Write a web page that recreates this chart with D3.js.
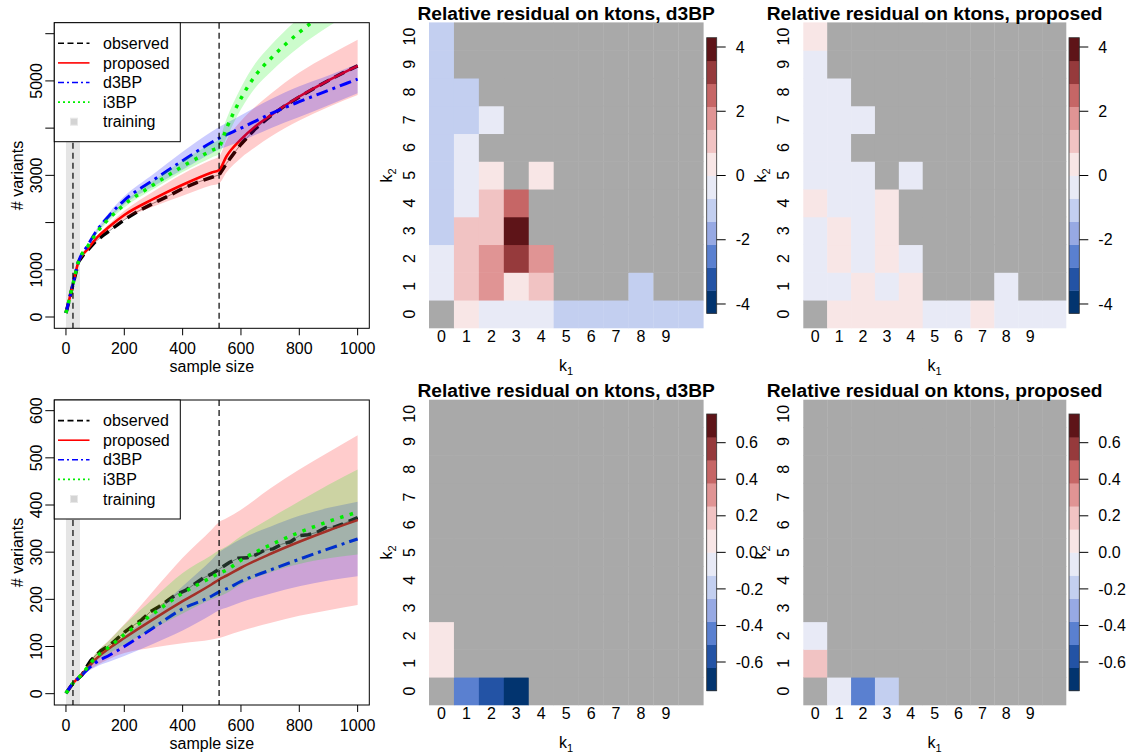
<!DOCTYPE html>
<html>
<head>
<meta charset="utf-8">
<script src="https://cdn.jsdelivr.net/npm/d3@7"></script>
<style>
  html, body { margin: 0; padding: 0; background: #ffffff; }
  svg { display: block; font-family: "Liberation Sans", Arial, Helvetica, sans-serif; }
</style>
</head>
<body>
<svg id="fig" width="1131" height="753"></svg>
<script>
// ---------------------------------------------------------------
// Growth curves: number of variants vs sample size
// ---------------------------------------------------------------
const seriesNames = ["observed", "proposed", "d3BP", "i3BP", "training"];
const trainingRange = [0, 48];
const markerSizes = [24, 525];
const sampleTicks = [0, 200, 400, 600, 800, 1000];

// upper panel (all variants)
const variantTicksTop = [0, 1000, 2000, 3000, 4000, 5000, 6000];
const variantTickLabelsTop = ["0", "1000", "", "3000", "", "5000", ""];
const obsSizesTop = [0, 10, 20, 30, 43, 60, 75, 100, 125, 150, 200, 250, 300, 350, 400, 450, 500, 525, 550, 575, 600, 650, 700, 750, 800, 850, 900, 950, 1000];
const observedTop = [85, 330, 590, 840, 1170, 1320, 1420, 1590, 1720, 1830, 2060, 2250, 2410, 2560, 2720, 2850, 2960, 3010, 3250, 3460, 3660, 3990, 4250, 4470, 4660, 4840, 5010, 5170, 5320];
const modelSizesTop = [0, 20, 43, 75, 100, 150, 200, 300, 400, 500, 525, 550, 600, 650, 700, 800, 900, 1000];
const proposedTop   = [85, 590, 1170, 1440, 1640, 1920, 2160, 2500, 2800, 3060, 3114, 3400, 3760, 4040, 4265, 4670, 5010, 5318];
const proposedTopLo = [85, 590, 1170, 1425, 1610, 1860, 2070, 2340, 2570, 2790, 2830, 3060, 3370, 3600, 3810, 4160, 4450, 4700];
const proposedTopHi = [85, 590, 1170, 1455, 1670, 1980, 2250, 2660, 3030, 3330, 3400, 3740, 4150, 4460, 4720, 5180, 5540, 5870];
const d3bpTop       = [85, 590, 1170, 1520, 1780, 2160, 2470, 2900, 3310, 3700, 3785, 3860, 4000, 4150, 4300, 4560, 4800, 5040];
const d3bpTopLo     = [85, 590, 1170, 1505, 1745, 2095, 2385, 2770, 3120, 3470, 3545, 3605, 3725, 3860, 3995, 4235, 4485, 4740];
const d3bpTopHi     = [85, 590, 1170, 1535, 1815, 2225, 2555, 3030, 3500, 3930, 4025, 4110, 4275, 4440, 4605, 4885, 5115, 5360];
const i3bpTop       = [85, 590, 1170, 1500, 1740, 2100, 2380, 2800, 3190, 3530, 3610, 3990, 4630, 5120, 5460, 6030, 6500, 6930];
const i3bpTopLo     = [85, 590, 1170, 1490, 1715, 2050, 2320, 2710, 3070, 3380, 3450, 3790, 4400, 4860, 5180, 5720, 6150, 6540];
const i3bpTopHi     = [85, 590, 1170, 1510, 1765, 2150, 2440, 2890, 3310, 3680, 3770, 4190, 4860, 5380, 5740, 6340, 6850, 7320];

// lower panel
const variantTicksBottom = [0, 100, 200, 300, 400, 500, 600];
const variantTickLabelsBottom = ["0", "100", "200", "300", "400", "500", "600"];
const obsSizesBottom = [0, 10, 24, 40, 55, 70, 85, 100, 120, 140, 160, 180, 200, 230, 260, 290, 320, 350, 380, 410, 440, 470, 500, 525, 560, 590, 620, 650, 680, 710, 740, 770, 800, 830, 860, 890, 920, 950, 980, 1000];
const observedBottom = [1, 10, 22, 31, 40, 56, 70, 80, 91, 99, 108, 119, 130, 144, 157, 174, 185, 198, 211, 219, 232, 245, 254, 264, 278, 287, 288, 294, 304, 307, 317, 322, 335, 337, 342, 352, 353, 360, 368, 373];
const modelSizesBottom = [0, 24, 50, 75, 100, 150, 200, 300, 400, 500, 525, 550, 600, 700, 800, 900, 1000];
const proposedBottom   = [1, 22, 38, 55, 72, 97, 118, 158, 196, 232, 242, 250, 267, 296, 322, 346, 368];
const proposedBottomLo = [1, 22, 36, 48, 58, 74, 86, 98, 107, 115, 118, 123, 133, 150, 165, 177, 188];
const proposedBottomHi = [1, 22, 40, 62, 84, 115, 147, 218, 288, 348, 364, 372, 390, 435, 475, 512, 548];
const d3bpBottom       = [1, 22, 37, 52, 65, 82, 100, 140, 180, 207, 216, 222, 238, 262, 285, 307, 328];
const d3bpBottomLo     = [1, 22, 35, 47, 56, 68, 80, 106, 134, 168, 177, 182, 194, 212, 228, 240, 249];
const d3bpBottomHi     = [1, 22, 39, 57, 74, 98, 122, 172, 228, 284, 300, 310, 328, 354, 377, 394, 407];
const i3bpBottom       = [1, 22, 38, 57, 76, 100, 125, 170, 213, 247, 255, 262, 283, 315, 342, 365, 385];
const i3bpBottomLo     = [1, 22, 36, 52, 68, 86, 104, 138, 170, 200, 206, 213, 232, 257, 275, 287, 295];
const i3bpBottomHi     = [1, 22, 40, 62, 84, 114, 146, 202, 256, 294, 304, 312, 334, 372, 408, 443, 475];

// ---------------------------------------------------------------
// Relative residuals on k-tons, indexed [k2][k1]; null = no data
// ---------------------------------------------------------------
const k1Labels = ["0", "1", "2", "3", "4", "5", "6", "7", "8", "9"];
const k2Labels = ["0", "1", "2", "3", "4", "5", "6", "7", "8", "9", "10"];
const N = null;
const residD3bpTop = [
  [N, 0.31, -0.28, -0.35, -0.22, -1.05, -0.98, -1.10, -1.02, -0.96, -1.08],
  [-0.33, 1.12, 1.86, 0.27, 1.05, N, N, N, -1.04, N, N],
  [-0.30, 1.08, 1.79, 3.21, 1.83, N, N, N, N, N, N],
  [-1.02, 1.15, 1.09, 4.29, N, N, N, N, N, N, N],
  [-0.97, -0.36, 1.10, 2.52, N, N, N, N, N, N, N],
  [-1.04, -0.31, 0.34, N, 0.29, N, N, N, N, N, N],
  [-1.01, -0.27, N, N, N, N, N, N, N, N, N],
  [-0.99, -1.06, -0.33, N, N, N, N, N, N, N, N],
  [-1.08, -1.03, N, N, N, N, N, N, N, N, N],
  [-1.00, N, N, N, N, N, N, N, N, N, N],
  [-1.07, N, N, N, N, N, N, N, N, N, N]
];
const residProposedTop = [
  [N, 0.22, 0.31, 0.26, 0.18, -0.21, -0.12, 0.33, -0.24, -0.30, -0.27],
  [-0.19, -0.32, 0.24, -0.16, 0.29, N, N, N, -0.22, N, N],
  [-0.28, 0.41, -0.21, 0.23, -0.11, N, N, N, N, N, N],
  [-0.23, 0.35, -0.30, 0.38, N, N, N, N, N, N, N],
  [0.21, -0.13, -0.26, 0.31, N, N, N, N, N, N, N],
  [-0.31, -0.20, -0.14, N, -0.25, N, N, N, N, N, N],
  [-0.22, -0.34, N, N, N, N, N, N, N, N, N],
  [-0.27, -0.17, -0.20, N, N, N, N, N, N, N, N],
  [-0.12, -0.29, N, N, N, N, N, N, N, N, N],
  [-0.24, N, N, N, N, N, N, N, N, N, N],
  [0.26, N, N, N, N, N, N, N, N, N, N]
];
const residD3bpBottom = [
  [N, -0.44, -0.57, -0.757, N, N, N, N, N, N, N],
  [0.06, N, N, N, N, N, N, N, N, N, N],
  [0.09, N, N, N, N, N, N, N, N, N, N],
  [N, N, N, N, N, N, N, N, N, N, N],
  [N, N, N, N, N, N, N, N, N, N, N],
  [N, N, N, N, N, N, N, N, N, N, N],
  [N, N, N, N, N, N, N, N, N, N, N],
  [N, N, N, N, N, N, N, N, N, N, N],
  [N, N, N, N, N, N, N, N, N, N, N],
  [N, N, N, N, N, N, N, N, N, N, N],
  [N, N, N, N, N, N, N, N, N, N, N]
];
const residProposedBottom = [
  [N, -0.05, -0.44, -0.19, N, N, N, N, N, N, N],
  [0.19, N, N, N, N, N, N, N, N, N, N],
  [-0.06, N, N, N, N, N, N, N, N, N, N],
  [N, N, N, N, N, N, N, N, N, N, N],
  [N, N, N, N, N, N, N, N, N, N, N],
  [N, N, N, N, N, N, N, N, N, N, N],
  [N, N, N, N, N, N, N, N, N, N, N],
  [N, N, N, N, N, N, N, N, N, N, N],
  [N, N, N, N, N, N, N, N, N, N, N],
  [N, N, N, N, N, N, N, N, N, N, N],
  [N, N, N, N, N, N, N, N, N, N, N]
];
const residTicksTop = [-4, -2, 0, 2, 4];
const residTickLabelsTop = ["-4", "-2", "0", "2", "4"];
const residTicksBottom = [-0.6, -0.4, -0.2, 0, 0.2, 0.4, 0.6];
const residTickLabelsBottom = ["-0.6", "-0.4", "-0.2", "0.0", "0.2", "0.4", "0.6"];

// diverging palette, low (blue) to high (red)
const residPalette = ["#02346f", "#2353a5", "#5a80d0", "#97a9e3", "#c3cff0", "#e8eaf6",
                      "#f8e6e6", "#f1c3c3", "#e09494", "#c66666", "#963a3c", "#5e1418"];
const naColor = "#a9a9a9";

// ---------------------------------------------------------------
const svg = d3.select("#fig");
const FS = 16;

function zip(xs, ys) { return xs.map((x, i) => [x, ys[i]]); }
function zipBand(xs, lo, hi) { return xs.map((x, i) => [x, lo[i], hi[i]]); }

function drawCurvePanel(cfg) {
  const { box } = cfg;
  const g = svg.append("g");
  const x = d3.scaleLinear().domain([-40, 1040]).range([box.x0, box.x1]);
  const y = d3.scaleLinear().domain(cfg.yDomain).range([box.y1, box.y0]);

  const clipId = "clip" + cfg.id;
  svg.append("clipPath").attr("id", clipId)
    .append("rect").attr("x", box.x0).attr("y", box.y0)
    .attr("width", box.x1 - box.x0).attr("height", box.y1 - box.y0);
  const pg = g.append("g").attr("clip-path", `url(#${clipId})`);

  // training window
  pg.append("rect")
    .attr("x", x(trainingRange[0])).attr("y", box.y0)
    .attr("width", x(trainingRange[1]) - x(trainingRange[0]))
    .attr("height", box.y1 - box.y0)
    .attr("fill", "#e5e5e5");

  const line = d3.line().x(d => x(d[0])).y(d => y(d[1]));
  const smooth = d3.line().x(d => x(d[0])).y(d => y(d[1])).curve(d3.curveMonotoneX);
  const area = d3.area().x(d => x(d[0])).y0(d => y(d[1])).y1(d => y(d[2])).curve(d3.curveMonotoneX);

  // observed counts
  pg.append("path").datum(zip(cfg.obsSizes, cfg.observed))
    .attr("d", line).attr("fill", "none").attr("stroke", "#8a8a8a").attr("stroke-width", 1);
  pg.append("path").datum(zip(cfg.obsSizes, cfg.observed))
    .attr("d", line).attr("fill", "none").attr("stroke", "#000")
    .attr("stroke-width", 3.5).attr("stroke-dasharray", "11,6");

  // model predictions with their intervals
  cfg.models.forEach(m => {
    pg.append("path").datum(zip(cfg.modelSizes, m.mid))
      .attr("d", smooth).attr("fill", "none").attr("stroke", m.color)
      .attr("stroke-width", m.width).attr("stroke-dasharray", m.dash);
    pg.append("path").datum(zipBand(cfg.modelSizes, m.lo, m.hi))
      .attr("d", area).attr("fill", m.color).attr("fill-opacity", 0.2);
  });

  // vertical reference sizes
  markerSizes.forEach(s => {
    pg.append("line").attr("x1", x(s)).attr("x2", x(s))
      .attr("y1", box.y0).attr("y2", box.y1)
      .attr("stroke", "#000").attr("stroke-width", 1.2).attr("stroke-dasharray", "6,4");
  });

  // frame
  g.append("rect").attr("x", box.x0).attr("y", box.y0)
    .attr("width", box.x1 - box.x0).attr("height", box.y1 - box.y0)
    .attr("fill", "none").attr("stroke", "#000").attr("stroke-width", 1);

  // x axis
  const xa = g.append("g");
  sampleTicks.forEach(t => {
    xa.append("line").attr("x1", x(t)).attr("x2", x(t)).attr("y1", box.y1).attr("y2", box.y1 + 7)
      .attr("stroke", "#000");
    xa.append("text").attr("x", x(t)).attr("y", box.y1 + 25.7).attr("text-anchor", "middle")
      .attr("font-size", FS).text(String(t));
  });
  g.append("text").attr("x", (box.x0 + box.x1) / 2).attr("y", box.y1 + 44)
    .attr("text-anchor", "middle").attr("font-size", FS).text("sample size");

  // y axis
  cfg.yTicks.forEach((t, i) => {
    g.append("line").attr("x1", box.x0 - 9).attr("x2", box.x0).attr("y1", y(t)).attr("y2", y(t))
      .attr("stroke", "#000");
    if (cfg.yTickLabels[i]) {
      g.append("text").attr("transform", `translate(${box.x0 - 12.8},${y(t)}) rotate(-90)`)
        .attr("text-anchor", "middle").attr("font-size", FS).text(cfg.yTickLabels[i]);
    }
  });
  g.append("text").attr("transform", `translate(22.5,${(box.y0 + box.y1) / 2}) rotate(-90)`)
    .attr("text-anchor", "middle").attr("font-size", FS).text("# variants");

  // legend
  const lg = g.append("g");
  lg.append("rect").attr("x", box.x0).attr("y", box.y0).attr("width", 126).attr("height", 119)
    .attr("fill", "#fff").attr("stroke", "#000").attr("stroke-width", 1);
  const legendStyles = [
    { color: "#000", dash: "6,3.5" },
    { color: "#ff0000", dash: null },
    { color: "#0000ff", dash: "6,3,2,3" },
    { color: "#00ee00", dash: "2,3" },
    null
  ];
  seriesNames.forEach((name, i) => {
    const yy = box.y0 + 20.6 + i * 19.6;
    const st = legendStyles[i];
    if (st) {
      lg.append("line").attr("x1", 58).attr("x2", 89.5).attr("y1", yy).attr("y2", yy)
        .attr("stroke", st.color).attr("stroke-width", 1.6).attr("stroke-dasharray", st.dash);
    } else {
      lg.append("rect").attr("x", 70.5).attr("y", yy - 3.5).attr("width", 7).attr("height", 7)
        .attr("fill", "#d4d4d4").attr("stroke", "#e8e8e8").attr("stroke-width", 1);
    }
    lg.append("text").attr("x", 103).attr("y", yy).attr("dy", "0.35em")
      .attr("font-size", FS).text(name);
  });
}

function subscriptLabel(sel, base, sub) {
  sel.append("tspan").text(base);
  sel.append("tspan").attr("font-size", 11).attr("dy", 4).text(sub);
}

function drawResidualPanel(cfg) {
  const { box, bar } = cfg;
  const g = svg.append("g");
  const cols = d3.range(11), rows = d3.range(11);
  const x = d3.scaleBand().domain(cols).range([box.x0, box.x1]);
  const y = d3.scaleBand().domain(rows).range([box.y1, box.y0]);
  const color = d3.scaleQuantize().domain([-cfg.zmax, cfg.zmax]).range(residPalette);
  const colorOf = v => v === null ? naColor : color(Math.max(-cfg.zmax, Math.min(cfg.zmax, v)));

  const cells = [];
  cfg.matrix.forEach((row, k2) => row.forEach((v, k1) => cells.push({ k1, k2, v })));
  g.append("g").selectAll("rect").data(cells).join("rect")
    .attr("x", d => x(d.k1)).attr("y", d => y(d.k2) - 0.3)
    .attr("width", x.bandwidth() + 0.3).attr("height", y.bandwidth() + 0.6)
    .attr("fill", d => colorOf(d.v));

  // title
  g.append("text").attr("x", (box.x0 + box.x1) / 2).attr("y", box.y0 - 3.2)
    .attr("text-anchor", "middle").attr("font-size", 19.2).attr("font-weight", "bold")
    .text(cfg.title);

  // axes (labels only)
  k1Labels.forEach((lab, i) => {
    g.append("text").attr("x", x(i) + x.bandwidth() / 2).attr("y", box.y1 + 14.3)
      .attr("text-anchor", "middle").attr("font-size", FS).text(lab);
  });
  k2Labels.forEach((lab, i) => {
    g.append("text").attr("transform", `translate(${box.x0 - 14},${y(i) + y.bandwidth() / 2}) rotate(-90)`)
      .attr("text-anchor", "middle").attr("font-size", FS).text(lab);
  });
  const xl = g.append("text").attr("x", (box.x0 + box.x1) / 2).attr("y", box.y1 + 42.5)
    .attr("text-anchor", "middle").attr("font-size", FS);
  subscriptLabel(xl, "k", "1");
  const yl = g.append("text").attr("transform", `translate(${box.x0 - 37},${(box.y0 + box.y1) / 2}) rotate(-90)`)
    .attr("text-anchor", "middle").attr("font-size", FS);
  subscriptLabel(yl, "k", "2");

  // colour bar
  const cy = d3.scaleLinear().domain([-cfg.zmax, cfg.zmax]).range([bar.y1, bar.y0]);
  const step = 2 * cfg.zmax / residPalette.length;
  residPalette.forEach((c, i) => {
    const lo = -cfg.zmax + i * step, hi = lo + step;
    g.append("rect").attr("x", bar.x0).attr("y", cy(hi)).attr("width", bar.x1 - bar.x0)
      .attr("height", cy(lo) - cy(hi) + 0.4).attr("fill", c);
  });
  g.append("rect").attr("x", bar.x0).attr("y", bar.y0).attr("width", bar.x1 - bar.x0)
    .attr("height", bar.y1 - bar.y0).attr("fill", "none").attr("stroke", "#333").attr("stroke-width", 0.8);
  cfg.ticks.forEach((t, i) => {
    g.append("line").attr("x1", bar.x1).attr("x2", bar.x1 + 9).attr("y1", cy(t)).attr("y2", cy(t))
      .attr("stroke", "#000");
    g.append("text").attr("x", bar.x1 + 19).attr("y", cy(t)).attr("dy", "0.35em")
      .attr("font-size", FS).text(cfg.tickLabels[i]);
  });
}

// ---------------------------------------------------------------
const modelColors = { proposed: "#ff0000", d3BP: "#0000ff", i3BP: "#00ee00" };
function models(p, pl, ph, d, dl, dh, i3, il, ih) {
  return [
    { color: modelColors.proposed, width: 2.6, dash: null, mid: p, lo: pl, hi: ph },
    { color: modelColors.d3BP, width: 3, dash: "12,5,3,5", mid: d, lo: dl, hi: dh },
    { color: modelColors.i3BP, width: 3.5, dash: "3.5,6.5", mid: i3, lo: il, hi: ih }
  ];
}

drawCurvePanel({
  id: "top", box: { x0: 54.3, x1: 369.3, y0: 22.7, y1: 328.3 }, yDomain: [-239, 6233],
  yTicks: variantTicksTop, yTickLabels: variantTickLabelsTop,
  obsSizes: obsSizesTop, observed: observedTop, modelSizes: modelSizesTop,
  models: models(proposedTop, proposedTopLo, proposedTopHi, d3bpTop, d3bpTopLo, d3bpTopHi, i3bpTop, i3bpTopLo, i3bpTopHi)
});
drawCurvePanel({
  id: "bottom", box: { x0: 54.3, x1: 369.3, y0: 400, y1: 705 }, yDomain: [-24, 622.6],
  yTicks: variantTicksBottom, yTickLabels: variantTickLabelsBottom,
  obsSizes: obsSizesBottom, observed: observedBottom, modelSizes: modelSizesBottom,
  models: models(proposedBottom, proposedBottomLo, proposedBottomHi, d3bpBottom, d3bpBottomLo, d3bpBottomHi, i3bpBottom, i3bpBottomLo, i3bpBottomHi)
});

const absMax = (...ms) => d3.max(ms.flat(2).filter(v => v !== null), v => Math.abs(v));
const zTop = absMax(residD3bpTop, residProposedTop);
const zBottom = absMax(residD3bpBottom, residProposedBottom);

drawResidualPanel({
  title: "Relative residual on ktons, d3BP", matrix: residD3bpTop, zmax: zTop,
  box: { x0: 429, x1: 703.3, y0: 22.7, y1: 328 }, bar: { x0: 706.7, x1: 716.7, y0: 37.7, y1: 313.3 },
  ticks: residTicksTop, tickLabels: residTickLabelsTop
});
drawResidualPanel({
  title: "Relative residual on ktons, proposed", matrix: residProposedTop, zmax: zTop,
  box: { x0: 803.3, x1: 1066, y0: 22.7, y1: 328 }, bar: { x0: 1069, x1: 1079.3, y0: 37.7, y1: 313.3 },
  ticks: residTicksTop, tickLabels: residTickLabelsTop
});
drawResidualPanel({
  title: "Relative residual on ktons, d3BP", matrix: residD3bpBottom, zmax: zBottom,
  box: { x0: 429, x1: 703.3, y0: 400, y1: 705 }, bar: { x0: 706.7, x1: 716.7, y0: 414, y1: 690.7 },
  ticks: residTicksBottom, tickLabels: residTickLabelsBottom
});
drawResidualPanel({
  title: "Relative residual on ktons, proposed", matrix: residProposedBottom, zmax: zBottom,
  box: { x0: 803.3, x1: 1066, y0: 400, y1: 705 }, bar: { x0: 1069, x1: 1079.3, y0: 414, y1: 690.7 },
  ticks: residTicksBottom, tickLabels: residTickLabelsBottom
});
</script>
</body>
</html>
